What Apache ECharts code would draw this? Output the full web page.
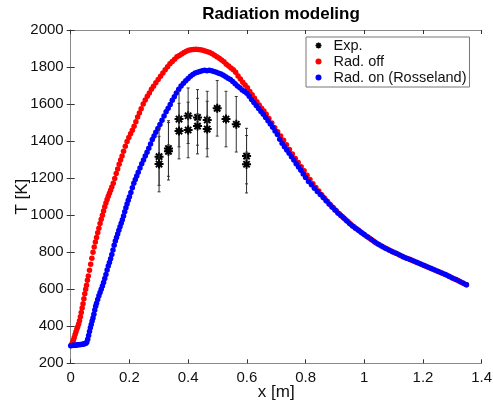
<!DOCTYPE html>
<html>
<head>
<meta charset="utf-8">
<script src="https://cdn.jsdelivr.net/npm/echarts@6/dist/echarts.min.js"></script>
<style>html,body{margin:0;padding:0;background:#fff;}#c{width:493px;height:404px;}</style>
</head>
<body>
<div id="c"></div>
<script>
// ---- data ----
const titleText = "Radiation modeling";
const xName = "x [m]";
const yName = "T [K]";
const seriesNames = ["Exp.", "Rad. off", "Rad. on (Rosseland)"];
const xTicks = [0, 0.2, 0.4, 0.6, 0.8, 1, 1.2, 1.4];
const yTicks = [200, 400, 600, 800, 1000, 1200, 1400, 1600, 1800, 2000];

// experimental points: x, T, half error bar
const expX   = [0.301, 0.301, 0.333, 0.333, 0.369, 0.369, 0.400, 0.400, 0.432, 0.432, 0.465, 0.465, 0.499, 0.529, 0.564, 0.599, 0.599];
const expT   = [1316, 1276, 1360, 1345, 1519, 1454, 1537, 1460, 1528, 1481, 1514, 1465, 1577, 1519, 1491, 1319, 1275];
const expErr = [155, 150, 150, 155, 150, 150, 150, 150, 150, 150, 155, 150, 150, 150, 150, 150, 155];

// Rad. off (red)
const radOff = [
[0.003,300],[0.006,312],[0.009,325],[0.012,340],[0.015,355],[0.018,370],[0.021,385],[0.024,398],[0.027,412],[0.030,430],
[0.033,452],[0.036,475],[0.039,498],[0.042,522],[0.045,548],[0.048,575],[0.051,600],[0.054,622],[0.057,648],[0.060,672],
[0.064,702],[0.068,735],[0.072,768],[0.076,800],[0.080,828],[0.084,855],[0.088,880],[0.092,905],[0.096,930],[0.100,955],
[0.104,978],[0.108,1000],[0.112,1022],[0.116,1045],[0.120,1066],[0.124,1085],[0.128,1102],[0.132,1118],[0.136,1135],[0.140,1152],
[0.145,1172],[0.150,1198],[0.155,1225],[0.160,1250],[0.165,1275],[0.170,1298],[0.175,1320],[0.180,1345],[0.186,1372],[0.192,1398],
[0.198,1420],[0.204,1440],[0.210,1458],[0.216,1480],[0.222,1505],[0.228,1530],[0.234,1552],[0.240,1575],[0.247,1600],[0.254,1622],
[0.261,1642],[0.268,1660],[0.275,1680],[0.282,1696],[0.290,1715],[0.298,1732],[0.306,1750],[0.314,1768],[0.322,1785],[0.330,1802],
[0.338,1818],[0.346,1830],[0.354,1842],[0.362,1855],[0.370,1862],[0.378,1870],[0.386,1878],[0.394,1885],[0.402,1890],[0.410,1893],
[0.418,1895],[0.426,1896],[0.434,1895],[0.442,1894],[0.450,1890],[0.458,1886],[0.466,1882],[0.474,1878],[0.482,1872],[0.490,1864],
[0.498,1856],[0.506,1848],[0.514,1838],[0.522,1828],[0.530,1815],[0.538,1805],[0.546,1795],[0.554,1785],[0.562,1772],[0.570,1752],
[0.578,1735],[0.586,1718],[0.594,1703],[0.602,1688],[0.610,1668],[0.618,1650],[0.626,1632],[0.634,1612],[0.642,1595],[0.650,1578],
[0.658,1562],[0.666,1545],[0.675,1522],[0.685,1498],[0.695,1472],[0.705,1450],[0.715,1428],[0.725,1404],[0.735,1380],[0.745,1354],
[0.755,1330],[0.765,1306],[0.775,1284],[0.785,1262],[0.795,1240],[0.805,1215],[0.815,1192],[0.825,1170],[0.835,1150],[0.845,1130],
[0.855,1110],[0.865,1092],[0.875,1074],[0.885,1056],[0.895,1040],[0.905,1024],[0.915,1008],[0.925,993],[0.935,978],[0.945,964],
[0.955,950],[0.965,938],[0.975,925],[0.985,913],[0.995,901],[1.006,888],[1.018,875],[1.030,862],[1.042,849],[1.054,838],
[1.066,827],[1.078,817],[1.090,808],[1.102,799],[1.114,790],[1.126,781],[1.138,772],[1.150,764],[1.162,756],[1.174,748],
[1.186,740],[1.198,732],[1.210,724],[1.222,716],[1.234,708],[1.246,700],[1.258,692],[1.270,684],[1.282,675],[1.294,666],
[1.306,657],[1.318,648],[1.330,638],[1.342,628],[1.348,624]
];

// Rad. on (Rosseland) (blue)
const radOn = [
[0.000,295],[0.004,296],[0.008,297],[0.012,297],[0.016,298],[0.020,299],[0.024,300],[0.028,300],[0.032,301],[0.036,302],
[0.040,303],[0.044,304],[0.048,306],[0.052,308],[0.055,315],[0.058,330],[0.061,350],[0.064,372],[0.067,392],[0.070,410],
[0.073,428],[0.076,445],[0.079,465],[0.082,488],[0.085,508],[0.088,524],[0.092,545],[0.096,565],[0.100,582],[0.104,600],
[0.108,618],[0.112,636],[0.116,658],[0.120,680],[0.124,704],[0.128,725],[0.132,745],[0.136,765],[0.140,788],[0.144,812],
[0.148,838],[0.152,860],[0.156,880],[0.160,898],[0.164,918],[0.168,938],[0.172,956],[0.176,975],[0.180,995],[0.184,1018],
[0.188,1040],[0.192,1060],[0.196,1080],[0.200,1100],[0.205,1122],[0.210,1148],[0.215,1172],[0.220,1192],[0.225,1212],[0.230,1232],
[0.236,1255],[0.242,1278],[0.248,1298],[0.254,1320],[0.260,1340],[0.266,1362],[0.272,1385],[0.278,1408],[0.284,1428],[0.290,1448],
[0.297,1468],[0.304,1490],[0.311,1512],[0.318,1535],[0.325,1558],[0.332,1578],[0.339,1598],[0.346,1620],[0.353,1640],[0.360,1660],
[0.368,1680],[0.376,1698],[0.384,1712],[0.392,1726],[0.400,1738],[0.408,1750],[0.416,1760],[0.424,1768],[0.432,1772],[0.440,1776],
[0.448,1780],[0.456,1782],[0.464,1780],[0.472,1782],[0.480,1780],[0.488,1776],[0.496,1772],[0.504,1767],[0.512,1762],[0.520,1756],
[0.528,1748],[0.536,1740],[0.544,1732],[0.552,1722],[0.560,1710],[0.568,1698],[0.576,1688],[0.584,1676],[0.592,1668],[0.600,1658],
[0.608,1642],[0.616,1625],[0.624,1608],[0.632,1592],[0.640,1576],[0.648,1560],[0.656,1545],[0.664,1528],[0.672,1510],[0.680,1492],
[0.688,1475],[0.696,1455],[0.704,1435],[0.712,1410],[0.720,1388],[0.728,1370],[0.736,1352],[0.744,1334],[0.752,1316],[0.760,1298],
[0.768,1278],[0.776,1260],[0.784,1242],[0.792,1222],[0.800,1204],[0.810,1182],[0.820,1164],[0.830,1146],[0.840,1128],[0.850,1112],
[0.860,1095],[0.870,1078],[0.880,1060],[0.890,1044],[0.900,1028],[0.910,1012],[0.920,998],[0.930,985],[0.940,970],[0.950,955],
[0.960,942],[0.970,930],[0.980,918],[0.990,906],[1.000,895],[1.012,882],[1.024,868],[1.036,855],[1.048,843],[1.060,832],
[1.072,822],[1.084,812],[1.096,803],[1.108,794],[1.120,785],[1.132,776],[1.144,768],[1.156,760],[1.168,752],[1.180,744],
[1.192,736],[1.204,728],[1.216,720],[1.228,712],[1.240,704],[1.252,696],[1.264,688],[1.276,680],[1.288,670],[1.300,661],
[1.312,652],[1.324,643],[1.336,634],[1.348,624]
];

// ---- chart ----
const FONT = '"Liberation Sans", Arial, Helvetica, sans-serif';
const AXIS_GRAY = '#8a8a8a';
const STAR_D = 'M0,5L10,5M5,0L5,10M1.5,1.5L8.5,8.5M1.5,8.5L8.5,1.5';
const STAR = 'path://' + STAR_D;

const expData = expX.map((x, i) => [x, expT[i], expT[i] - expErr[i], expT[i] + expErr[i]]);

const chart = echarts.init(document.getElementById('c'), null, {renderer: 'canvas'});

const xMin = xTicks[0], xMax = xTicks[xTicks.length - 1];
const yMin = yTicks[0], yMax = yTicks[yTicks.length - 1];
const xInt = xTicks[1] - xTicks[0];
const yInt = yTicks[1] - yTicks[0];

function baseX(extra) {
  return Object.assign({
    type: 'value', min: xMin, max: xMax, interval: xInt,
    axisLine: {show: true, lineStyle: {color: AXIS_GRAY, width: 1}},
    axisTick: {show: true, inside: true, length: 4, lineStyle: {color: '#333'}},
    splitLine: {show: false},
  }, extra);
}
function baseY(extra) {
  return Object.assign({
    type: 'value', min: yMin, max: yMax, interval: yInt,
    axisLine: {show: true, lineStyle: {color: AXIS_GRAY, width: 1}},
    axisTick: {show: true, inside: true, length: 4, lineStyle: {color: '#333'}},
    splitLine: {show: false},
  }, extra);
}

const option = {
  animation: false,
  backgroundColor: '#fff',
  title: {
    text: titleText, left: 276, top: 1, textAlign: 'center',
    textStyle: {fontFamily: FONT, fontSize: 17, fontWeight: 'bold', color: '#000'}
  },
  grid: {left: 70.7, right: 11.3, top: 30, bottom: 40.7, containLabel: false, outerBoundsMode: 'none'},
  legend: {
    orient: 'vertical', left: 306, top: 37,
    padding: [1, 3, 2, 7], itemGap: 1,
    itemWidth: 20, itemHeight: 6,
    borderColor: '#777', borderWidth: 1, backgroundColor: '#fff',
    textStyle: {fontFamily: FONT, fontSize: 14.5, color: '#111', lineHeight: 14},
    data: [
      {name: seriesNames[0], icon: STAR, itemStyle: {color: 'none', borderColor: '#000', borderWidth: 1.5}},
      {name: seriesNames[1], icon: 'circle'},
      {name: seriesNames[2], icon: 'circle'}
    ]
  },
  xAxis: [
    baseX({
      position: 'bottom', name: xName, nameLocation: 'middle', nameGap: 21, nameMoveOverlap: false,
      nameTextStyle: {fontFamily: FONT, fontSize: 17, color: '#111'},
      axisLabel: {fontFamily: FONT, fontSize: 15, color: '#111', margin: 7,
        formatter: v => String(+v.toFixed(1))}
    }),
    baseX({position: 'top', axisLabel: {show: false}})
  ],
  yAxis: [
    baseY({
      position: 'left', name: yName, nameLocation: 'middle', nameGap: 40, nameMoveOverlap: false,
      nameTextStyle: {fontFamily: FONT, fontSize: 17, color: '#111'},
      axisLabel: {fontFamily: FONT, fontSize: 15, color: '#111', margin: 7,
        formatter: v => String(v)}
    }),
    baseY({position: 'right', axisLabel: {show: false}})
  ],
  series: [
    {
      name: seriesNames[1], type: 'scatter', data: radOff,
      symbol: 'circle', symbolSize: 5.5, itemStyle: {color: '#ff0000', opacity: 1}, z: 2
    },
    {
      name: seriesNames[2], type: 'scatter', data: radOn,
      symbol: 'circle', symbolSize: 5.5, itemStyle: {color: '#0000ff', opacity: 1}, z: 3
    },
    {
      name: seriesNames[0], type: 'custom', data: expData, z: 4,
      itemStyle: {color: '#000'},
      renderItem: function (params, api) {
        const x = api.value(0);
        const c = api.coord([x, api.value(1)]);
        const lo = api.coord([x, api.value(2)]);
        const hi = api.coord([x, api.value(3)]);
        const cap = 1.5;
        const ls = {stroke: '#333', lineWidth: 1};
        return {
          type: 'group',
          children: [
            {type: 'line', shape: {x1: lo[0], y1: lo[1], x2: hi[0], y2: hi[1]}, style: ls},
            {type: 'line', shape: {x1: lo[0] - cap, y1: lo[1], x2: lo[0] + cap, y2: lo[1]}, style: ls},
            {type: 'line', shape: {x1: hi[0] - cap, y1: hi[1], x2: hi[0] + cap, y2: hi[1]}, style: ls},
            {type: 'path', shape: {pathData: STAR_D, x: c[0] - 4.5, y: c[1] - 4.5, width: 9, height: 9, layout: 'center'},
             style: {stroke: '#000', lineWidth: 2, fill: null}}
          ]
        };
      }
    }
  ]
};
chart.setOption(option);
</script>
</body>
</html>
